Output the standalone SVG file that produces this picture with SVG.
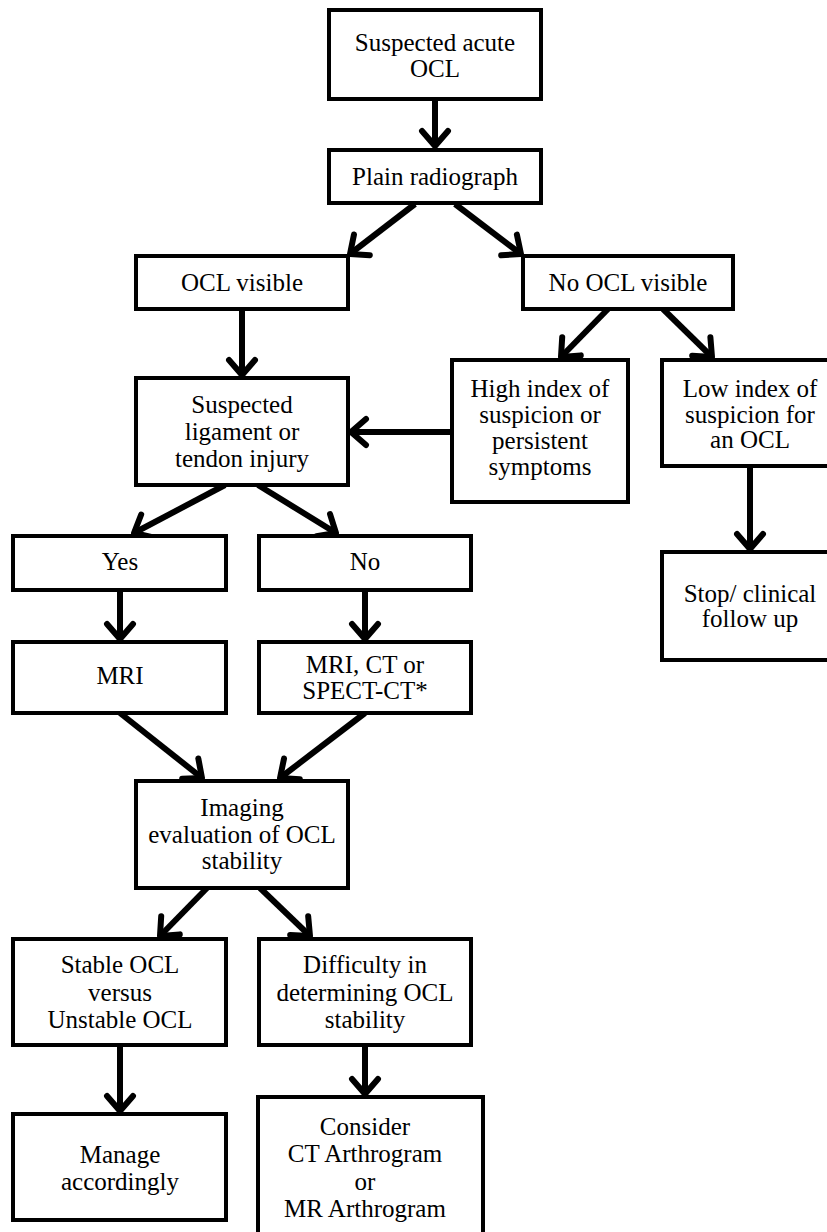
<svg xmlns="http://www.w3.org/2000/svg" width="827" height="1232" viewBox="0 0 827 1232">
<style>
.box{fill:#fff;stroke:#000;stroke-width:4;}
.t{font-family:"Liberation Serif","Times New Roman",serif;font-size:25px;fill:#000;text-anchor:middle;}
.c{stroke:#000;stroke-width:6;fill:none;marker-end:url(#ah);}
</style>
<defs>
<marker id="ah" markerUnits="userSpaceOnUse" viewBox="-25 -25 50 50" markerWidth="50" markerHeight="50" refX="0" refY="0" orient="auto">
<path d="M-15,-13 L0,0 L-15,13" fill="none" stroke="#000" stroke-width="6" stroke-linecap="round" stroke-linejoin="round"/>
</marker>
</defs>
<rect width="827" height="1232" fill="#fff"/>
<g id="connectors">
<line class="c" x1="435" y1="99" x2="435" y2="146"/>
<line class="c" x1="415" y1="204" x2="350" y2="254"/>
<line class="c" x1="455" y1="204" x2="521" y2="254"/>
<line class="c" x1="242" y1="309" x2="242" y2="375"/>
<line class="c" x1="452" y1="432" x2="351" y2="432"/>
<line class="c" x1="608" y1="309" x2="561" y2="357"/>
<line class="c" x1="663" y1="309" x2="712" y2="357"/>
<line class="c" x1="750" y1="466" x2="750" y2="549"/>
<line class="c" x1="225" y1="485" x2="134" y2="533"/>
<line class="c" x1="258" y1="485" x2="336" y2="533"/>
<line class="c" x1="120" y1="590" x2="120" y2="639"/>
<line class="c" x1="365" y1="590" x2="365" y2="639"/>
<line class="c" x1="120" y1="713" x2="202" y2="778"/>
<line class="c" x1="365" y1="713" x2="280" y2="778"/>
<line class="c" x1="207" y1="888" x2="160" y2="936"/>
<line class="c" x1="260" y1="888" x2="310" y2="936"/>
<line class="c" x1="120" y1="1045" x2="120" y2="1111"/>
<line class="c" x1="365" y1="1045" x2="365" y2="1094"/>
</g>
<g id="n1"><rect class="box" x="329" y="10" width="212" height="89"/><text class="t" x="435" y="51">Suspected acute</text><text class="t" x="435" y="77">OCL</text></g>
<g id="n2"><rect class="box" x="329" y="150" width="212" height="53"/><text class="t" x="435" y="185">Plain radiograph</text></g>
<g id="n3"><rect class="box" x="136" y="256" width="212" height="53"/><text class="t" x="242" y="291">OCL visible</text></g>
<g id="n4"><rect class="box" x="523" y="256" width="210" height="53"/><text class="t" x="628" y="291">No OCL visible</text></g>
<g id="n5"><rect class="box" x="136" y="378" width="212" height="107"/><text class="t" x="242" y="413">Suspected</text><text class="t" x="242" y="440">ligament or</text><text class="t" x="242" y="467">tendon injury</text></g>
<g id="n6"><rect class="box" x="452" y="360" width="176" height="142"/><text class="t" x="540" y="397">High index of</text><text class="t" x="540" y="423">suspicion or</text><text class="t" x="540" y="449">persistent</text><text class="t" x="540" y="475">symptoms</text></g>
<g id="n7"><rect class="box" x="662" y="360" width="180" height="106"/><text class="t" x="750" y="397">Low index of</text><text class="t" x="750" y="423">suspicion for</text><text class="t" x="750" y="448">an OCL</text></g>
<g id="n8"><rect class="box" x="662" y="552" width="180" height="108"/><text class="t" x="750" y="602">Stop/ clinical</text><text class="t" x="750" y="627">follow up</text></g>
<g id="n9"><rect class="box" x="13" y="536" width="213" height="54"/><text class="t" x="120" y="570">Yes</text></g>
<g id="n10"><rect class="box" x="259" y="536" width="212" height="54"/><text class="t" x="365" y="570">No</text></g>
<g id="n11"><rect class="box" x="13" y="642" width="213" height="71"/><text class="t" x="120" y="684">MRI</text></g>
<g id="n12"><rect class="box" x="259" y="642" width="212" height="71"/><text class="t" x="365" y="673">MRI, CT or</text><text class="t" x="365" y="699">SPECT-CT*</text></g>
<g id="n13"><rect class="box" x="136" y="781" width="212" height="107"/><text class="t" x="242" y="816">Imaging</text><text class="t" x="242" y="843">evaluation of OCL</text><text class="t" x="242" y="869">stability</text></g>
<g id="n14"><rect class="box" x="13" y="939" width="213" height="106"/><text class="t" x="120" y="973">Stable OCL</text><text class="t" x="120" y="1001">versus</text><text class="t" x="120" y="1028">Unstable OCL</text></g>
<g id="n15"><rect class="box" x="259" y="939" width="212" height="106"/><text class="t" x="365" y="973">Difficulty in</text><text class="t" x="365" y="1001">determining OCL</text><text class="t" x="365" y="1028">stability</text></g>
<g id="n16"><rect class="box" x="13" y="1114" width="213" height="106"/><text class="t" x="120" y="1163">Manage</text><text class="t" x="120" y="1190">accordingly</text></g>
<g id="n17"><rect class="box" x="258" y="1097" width="225" height="145"/><text class="t" x="365" y="1135">Consider</text><text class="t" x="365" y="1162">CT Arthrogram</text><text class="t" x="365" y="1190">or</text><text class="t" x="365" y="1217">MR Arthrogram</text></g>
</svg>
